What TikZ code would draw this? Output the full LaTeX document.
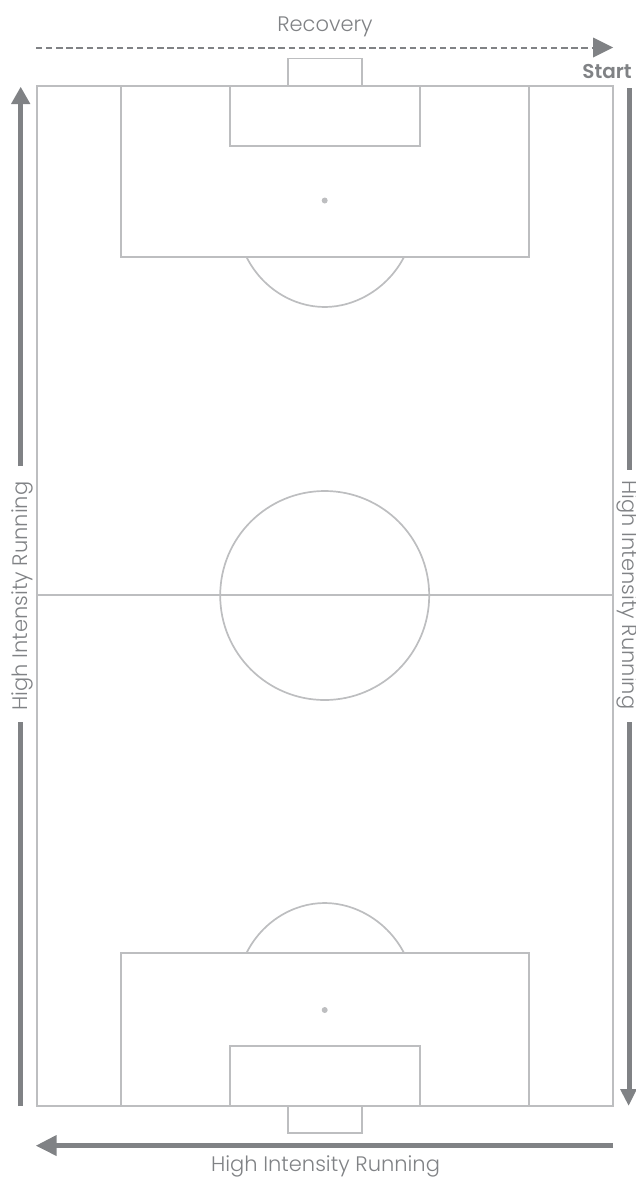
\documentclass[tikz,border=0pt]{standalone}
\usepackage{fontspec}
\setmainfont{Poppins}[UprightFont=* Light,BoldFont=* SemiBold]
\definecolor{pitchline}{HTML}{BDBEC0}
\definecolor{runarrow}{HTML}{808285}
\tikzset{
  x=1pt,y=-1pt,
  pitch/.style={draw=pitchline,line width=1.7pt},
  spot/.style={circle,fill=pitchline,draw=none,inner sep=0pt,minimum size=6pt},
  runbar/.style={draw=runarrow,line width=5pt},
  dashbar/.style={draw=runarrow,line width=2pt,dash pattern=on 6.3pt off 3.8pt},
  runhead/.style={fill=runarrow,draw=none},
  runlabel/.style={text=runarrow,font=\fontsize{21}{24}\selectfont,inner sep=0pt},
}
\begin{document}
\begin{tikzpicture}
\useasboundingbox (0,0) rectangle (636,1178);
% pitch
\draw[pitch] (37,85.7) rectangle (612.8,1105.7);
\draw[pitch] (37,595.3) -- (612.8,595.3);
\node[draw=pitchline,line width=1.7pt,circle,inner sep=0pt,minimum size=209pt] (centre) at (324.7,595.5) {};
% top end
\draw[pitch] (121,85.7) rectangle (529,257);
\draw[pitch] (230,85.7) rectangle (420,146);
\draw[pitch] (288,85.7) rectangle (362,58.5);
\node[spot] (spottop) at (324.7,200.5) {};
\draw[pitch] (246.5,257) .. controls (262,288) and (293,307) .. (324.7,307) .. controls (356,307) and (388,288) .. (404,257);
% bottom end
\draw[pitch] (121,953) rectangle (529,1105.7);
\draw[pitch] (230,1046) rectangle (420,1105.7);
\draw[pitch] (288,1105.7) rectangle (362,1133);
\node[spot] (spotbottom) at (324.7,1010) {};
\draw[pitch] (246.5,953) .. controls (262,922) and (293,903) .. (324.7,903) .. controls (356,903) and (388,922) .. (404,953);
% labels
\node[runlabel] (recovery) at (325,27) {Recovery};
\node[runlabel,font=\fontsize{20}{24}\selectfont\bfseries] (start) at (607,72) {Start};
\node[runlabel,rotate=90] (leftlabel) at (22,596) {High Intensity Running};
\node[runlabel,rotate=-90] (rightlabel) at (628,595) {High Intensity Running};
\node[runlabel] (bottomlabel) at (325.5,1166.5) {High Intensity Running};
% recovery arrow
\coordinate (recA) at (36,47.5);
\coordinate (recB) at (595,47.5);
\draw[dashbar] (recA) -- (recB);
\fill[runhead] (593,37.5) -- (613,47.5) -- (593,57.5) -- cycle;
% left arrow
\coordinate (lA) at (20.7,1106);
\coordinate (lB) at (20.7,722);
\coordinate (lC) at (20.7,466);
\coordinate (lD) at (20.7,103);
\draw[runbar] (lA) -- (lB);
\draw[runbar] (lC) -- (lD);
\fill[runhead] (11,104) -- (20.7,87) -- (30.4,104) -- cycle;
% right arrow
\coordinate (rA) at (629.3,88);
\coordinate (rB) at (629.3,470);
\coordinate (rC) at (629.3,722);
\coordinate (rD) at (629.3,1090);
\draw[runbar] (rA) -- (rB);
\draw[runbar] (rC) -- (rD);
\fill[runhead] (620,1089) -- (628.6,1105.5) -- (637,1089) -- cycle;
% bottom arrow
\coordinate (bA) at (613,1145.7);
\coordinate (bB) at (55,1145.7);
\draw[runbar] (bA) -- (bB);
\fill[runhead] (56.5,1135) -- (36,1145.7) -- (56.5,1156) -- cycle;
\end{tikzpicture}
\end{document}
